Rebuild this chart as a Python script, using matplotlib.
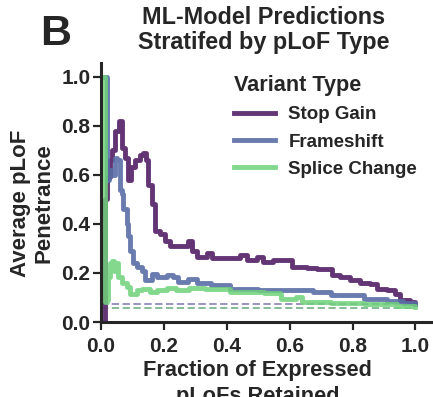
import matplotlib
matplotlib.use('Agg')
import matplotlib.pyplot as plt

plt.rcParams['font.family'] = ['Liberation Sans', 'DejaVu Sans']
plt.rcParams['font.weight'] = 'bold'
TXT = '#262626'

# --- data ---
stop_x = [0.0, 0.006, 0.012, 0.02, 0.028, 0.034, 0.045, 0.058, 0.066, 0.076,
          0.087, 0.094, 0.108, 0.124, 0.135, 0.143, 0.151, 0.161, 0.172, 0.188,
          0.204, 0.22, 0.251, 0.278, 0.289, 0.305, 0.336, 0.352, 0.41, 0.442,
          0.464, 0.495, 0.516, 0.548, 0.596, 0.607, 0.654, 0.686, 0.718, 0.734,
          0.76, 0.792, 0.824, 0.856, 0.877, 0.909, 0.935, 0.951, 0.983, 1.0]
stop_y = [0.0, 0.0, 0.50, 0.59, 0.66, 0.70, 0.78, 0.82, 0.71, 0.67,
          0.58, 0.63, 0.66, 0.68, 0.69, 0.66, 0.56, 0.48, 0.37, 0.36,
          0.33, 0.31, 0.31, 0.33, 0.29, 0.265, 0.28, 0.26, 0.259, 0.272,
          0.252, 0.265, 0.245, 0.252, 0.252, 0.224, 0.222, 0.218, 0.218, 0.19,
          0.184, 0.17, 0.157, 0.154, 0.136, 0.129, 0.116, 0.089, 0.082, 0.075]

fs_x = [0.0, 0.005, 0.018, 0.025, 0.032, 0.045, 0.05, 0.06, 0.066, 0.071,
        0.082, 0.087, 0.092, 0.103, 0.114, 0.13, 0.14, 0.161, 0.177, 0.209,
        0.23, 0.246, 0.278, 0.305, 0.35, 0.41, 0.5, 0.57, 0.675, 0.73,
        0.835, 0.91, 0.96, 1.0]
fs_y = [1.0, 1.0, 0.58, 0.62, 0.60, 0.67, 0.66, 0.54, 0.52, 0.46,
        0.40, 0.35, 0.29, 0.24, 0.224, 0.21, 0.17, 0.197, 0.184, 0.19,
        0.184, 0.163, 0.177, 0.157, 0.15, 0.136, 0.13, 0.129, 0.122, 0.109,
        0.095, 0.086, 0.078, 0.072]

sp_x = [0.0, 0.004, 0.012, 0.018, 0.023, 0.029, 0.036, 0.041, 0.048, 0.055,
        0.066, 0.082, 0.092, 0.114, 0.13, 0.156, 0.177, 0.21, 0.24, 0.28,
        0.33, 0.41, 0.52, 0.57, 0.573, 0.62, 0.638, 0.73, 0.835, 0.94, 1.0]
sp_y = [1.0, 1.0, 0.08, 0.089, 0.184, 0.24, 0.25, 0.21, 0.24, 0.184,
        0.157, 0.143, 0.116, 0.129, 0.136, 0.122, 0.13, 0.14, 0.13, 0.14,
        0.136, 0.122, 0.118, 0.116, 0.095, 0.10, 0.082, 0.078, 0.072, 0.064, 0.062]

# baseline (dashed) levels
base_stop = 0.075
base_fs = 0.072
base_sp = 0.057

C_STOP = '#5b2a6d'
C_FS = '#5a6ea6'
C_SP = '#6fd27a'

fig = plt.figure(figsize=(4.33, 3.97), dpi=100)
ax = fig.add_axes([0.2333, 0.1889, 0.7667, 0.6524])

ax.hlines(base_stop, 0, 1.0, colors='#a27fb3', linestyles=(0, (4, 2)), lw=1.3, alpha=0.9)
ax.hlines(base_fs, 0, 1.0, colors='#8393c4', linestyles=(0, (4, 2)), lw=1.3, alpha=0.5)
ax.hlines(base_sp, 0, 1.0, colors='#6fae84', linestyles=(0, (4, 2)), lw=1.3, alpha=0.9)

ax.plot(stop_x, stop_y, drawstyle='steps-post', color=C_STOP, lw=3.5, alpha=0.95, label='Stop Gain')
ax.plot(fs_x, fs_y, drawstyle='steps-post', color=C_FS, lw=3.5, alpha=0.9, label='Frameshift')
ax.plot(sp_x, sp_y, drawstyle='steps-post', color=C_SP, lw=3.5, alpha=0.85, label='Splice Change')

ax.set_xlim(0, 1.056)
ax.set_ylim(0, 1.056)
ax.set_xticks([0, 0.2, 0.4, 0.6, 0.8, 1.0])
ax.set_yticks([0, 0.2, 0.4, 0.6, 0.8, 1.0])
ax.set_xticklabels(['0.0', '0.2', '0.4', '0.6', '0.8', '1.0'])
ax.set_yticklabels(['0.0', '0.2', '0.4', '0.6', '0.8', '1.0'])
for s in ['top', 'right']:
    ax.spines[s].set_visible(False)
for s in ['left', 'bottom']:
    ax.spines[s].set_linewidth(2.2)
    ax.spines[s].set_color(TXT)
ax.tick_params(axis='both', length=5.5, width=1.6, color=TXT, labelcolor=TXT, labelsize=15)
ax.tick_params(axis='x', pad=5)
ax.tick_params(axis='y', pad=2)

ax.set_xlabel('Fraction of Expressed\npLoFs Retained', fontsize=15.7, color=TXT,
              fontweight='bold', linespacing=1.3)
ax.xaxis.set_label_coords(0.471, -0.147)
ax.set_ylabel('Average pLoF\nPenetrance', fontsize=16, color=TXT,
              fontweight='bold', linespacing=1.15)
ax.yaxis.set_label_coords(-0.14, 0.459)

leg = ax.legend(title='Variant Type', loc='upper left', bbox_to_anchor=(0.35, 1.02),
                frameon=False, fontsize=13.5, handlelength=2.2, handletextpad=0.7,
                labelspacing=0.55, alignment='left')
leg.get_title().set_fontsize(15.6)
leg.get_title().set_fontweight('bold')
leg.get_title().set_color(TXT)
for t in leg.get_texts():
    t.set_color(TXT)
for h in leg.legend_handles:
    h.set_linewidth(3.5)

fig.text(264 / 433, 1 - 5.5 / 397, 'ML-Model Predictions\nStratifed by pLoF Type',
         ha='center', va='top', fontsize=16.8, color=TXT, fontweight='bold', linespacing=1.12)
fig.text(40 / 433, 1 - 45 / 397, 'B', ha='left', va='baseline', fontsize=31,
         color=TXT, fontweight='bold')

fig.savefig('out.png', dpi=100)
